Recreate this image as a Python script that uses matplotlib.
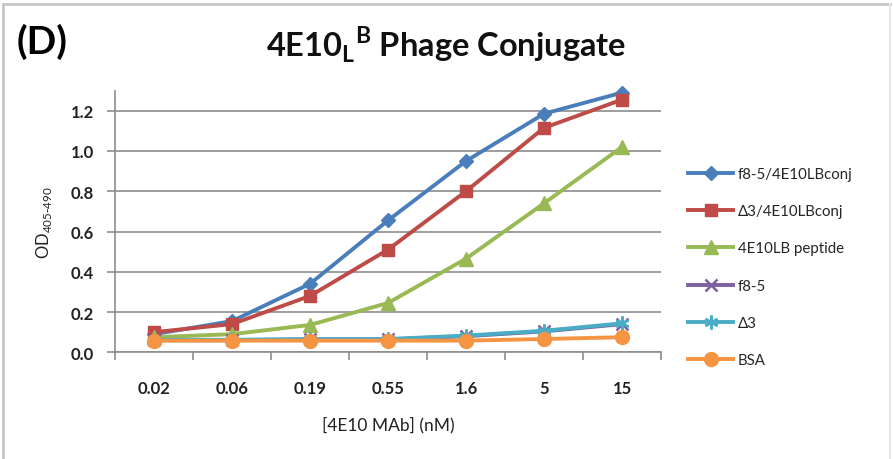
import matplotlib
matplotlib.use("Agg")
import matplotlib.pyplot as plt
from matplotlib.lines import Line2D

# ---- data ----
conc_labels = ["0.02", "0.06", "0.19", "0.55", "1.6", "5", "15"]
f85_conj   = [0.09, 0.155, 0.34, 0.655, 0.95, 1.185, 1.29]
d3_conj    = [0.10, 0.14, 0.28, 0.51, 0.80, 1.115, 1.255]
peptide    = [0.075, 0.09, 0.136, 0.245, 0.465, 0.74, 1.02]
f85        = [0.06, 0.06, 0.064, 0.064, 0.08, 0.104, 0.14]
d3         = [0.062, 0.062, 0.066, 0.066, 0.083, 0.107, 0.144]
bsa        = [0.058, 0.058, 0.058, 0.058, 0.058, 0.066, 0.075]
series_names = ["f8-5/4E10LBconj", "\u03943/4E10LBconj", "4E10LB peptide",
                "f8-5", "\u03943", "BSA"]
y_ticks = [0.0, 0.2, 0.4, 0.6, 0.8, 1.0, 1.2]

plt.rcParams['font.family'] = ['Lato', 'DejaVu Sans']

W, H = 893, 460
fig = plt.figure(figsize=(W / 100, H / 100), dpi=100)

def fx(px):
    return px / W

def fy(py):
    return 1 - py / H

ax_left, ax_right, ax_top, ax_bot = 115, 661, 91.6, 353.3
ax = fig.add_axes([fx(ax_left), fy(ax_bot), (ax_right - ax_left) / W, (ax_bot - ax_top) / H])

x = list(range(len(conc_labels)))
styles = [
    dict(color='#4A7EBB', marker='D', ms=7.5),
    dict(color='#BE4B48', marker='s', ms=9),
    dict(color='#98B954', marker='^', ms=9.5),
    dict(color='#7D60A0', marker='x', ms=8, mew=1.8),
    dict(color='#4AACC5', marker=(6, 2, 0), ms=10, mew=1.8),
    dict(color='#F59443', marker='o', ms=10),
]
all_series = [f85_conj, d3_conj, peptide, f85, d3, bsa]
for vals, name, st in zip(all_series, series_names, styles):
    ax.plot(x, vals, color=st['color'], lw=2.8, marker=st['marker'], ms=st['ms'],
            mew=st.get('mew', 1), mec=st['color'], mfc=st['color'], label=name,
            clip_on=False, zorder=3)

ax.set_xlim(-0.5, len(conc_labels) - 0.5)
ax.set_ylim(0, 1.3)
ax.set_yticks(y_ticks)
ax.set_yticklabels([f"{v:.1f}" for v in y_ticks], fontsize=12, fontweight='bold', color='#222222')
ax.set_xticks(x)
ax.set_xticklabels(conc_labels, fontsize=12, fontweight='bold', color='#222222')
ax.set_xticks([i - 0.5 for i in range(len(conc_labels) + 1)], minor=True)
ax.tick_params(axis='x', which='major', length=0, pad=20)
ax.tick_params(axis='x', which='minor', length=6, width=1.2, color='#8c8c8c', direction='out')
ax.tick_params(axis='y', which='major', length=6, width=1.2, color='#8c8c8c', direction='out', pad=9)

for s in ['top', 'right']:
    ax.spines[s].set_visible(False)
for s in ['left', 'bottom']:
    ax.spines[s].set_color('#8c8c8c')
    ax.spines[s].set_linewidth(1.2)
ax.yaxis.grid(True, color='#8c8c8c', lw=1.2)
ax.set_axisbelow(True)

ax.set_xlabel("[4E10 MAb] (nM)", fontsize=12.5, color='#222222', labelpad=14)
ax.set_ylabel(r"OD$_{\mathregular{405\text{-}490}}$", fontsize=12, color='#222222', labelpad=12)

leg = ax.legend(loc='upper left', bbox_to_anchor=(fx(688), fy(168)),
                bbox_transform=fig.transFigure, frameon=False, fontsize=10.8,
                handlelength=3.0, handletextpad=0.3, labelspacing=1.55,
                borderpad=0, borderaxespad=0)
for t in leg.get_texts():
    t.set_color('#262626')

fig.text(0.5, fy(57), r"4E10$_{\mathregular{L}}$$^{\mathregular{B}}$ Phage Conjugate",
         ha='center', va='baseline', fontsize=23.5, fontweight='bold', color='#111111')
fig.text(fx(17), fy(54), "(D)", ha='left', va='baseline', fontsize=28,
         fontweight='bold', color='#000000')

# outer frame
fc = '#c8c8c8'
fig.add_artist(Line2D([fx(3), fx(890)], [fy(5), fy(5)], color=fc, lw=2, transform=fig.transFigure))
fig.add_artist(Line2D([fx(3), fx(3)], [fy(5), 0], color=fc, lw=2, transform=fig.transFigure))
fig.add_artist(Line2D([fx(890), fx(890)], [fy(5), 0], color='#e6e6e6', lw=1.5, transform=fig.transFigure))

fig.savefig("out.png", dpi=100)
